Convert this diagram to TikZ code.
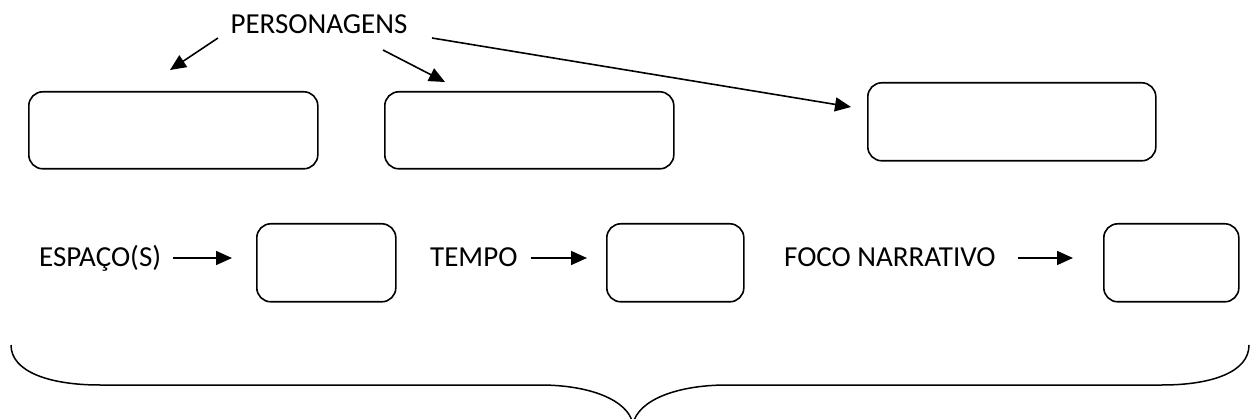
\documentclass[tikz,border=0pt]{standalone}
\usepackage{fontspec}
\setmainfont{Carlito}
\usetikzlibrary{arrows.meta,calc}

\tikzset{
  box/.style={draw=black, line width=1.6pt, rounded corners=14pt, fill=white},
  lbl/.style={inner sep=0pt, font=\fontsize{29}{34}\selectfont},
  arr/.style={line width=1.6pt, -{Triangle[length=16pt,width=14pt]}},
  brace/.style={line width=1.5pt}
}

\begin{document}
\begin{tikzpicture}[x=1pt,y=-1pt]
\useasboundingbox (0,0) rectangle (1252,419);

% upper row: three character boxes
\node[box, minimum width=289pt, minimum height=77pt, anchor=north west] (p1) at (28,91) {};
\node[box, minimum width=289pt, minimum height=77pt, anchor=north west] (p2) at (384,91) {};
\node[box, minimum width=288pt, minimum height=78pt, anchor=north west] (p3) at (867,82) {};

\node[lbl, anchor=base] (pers) at (319,34) {PERSONAGENS};

\coordinate (s1) at (218,38);  \coordinate (t1) at (170,70);
\coordinate (s2) at (383,50);  \coordinate (t2) at (445,82);
\coordinate (s3) at (432,38);  \coordinate (t3) at (851,107);
\draw[arr] (s1) -- (t1);
\draw[arr] (s2) -- (t2);
\draw[arr] (s3) -- (t3);

% middle row: setting, time, point of view
\node[box, minimum width=139pt, minimum height=78pt, anchor=north west] (b1) at (256,223) {};
\node[box, minimum width=137pt, minimum height=78pt, anchor=north west] (b2) at (606,223) {};
\node[box, minimum width=135pt, minimum height=78pt, anchor=north west] (b3) at (1103,223) {};

\node[lbl, anchor=base west] (esp) at (39,267) {ESPAÇO(S)};
\node[lbl, anchor=base west] (tem) at (430,267) {TEMPO};
\node[lbl, anchor=base west] (foc) at (784,267) {FOCO NARRATIVO};

\draw[arr] ($(esp.base east)+(12,-9)$) -- ($(b1.west |- 0,258)+(-24,0)$);
\draw[arr] ($(tem.base east)+(13,-9)$) -- ($(b2.west |- 0,258)+(-19,0)$);
\draw[arr] ($(foc.base east)+(22,-9)$) -- ($(b3.west |- 0,258)+(-30,0)$);

% closing brace
\draw[brace] (11,345) .. controls (11,372) and (50,385) .. (100,385)
  -- (540,385) .. controls (590,385) and (628,400) .. (633,424);
\draw[brace] (633,424) .. controls (638,400) and (677,385) .. (727,385)
  -- (1162,385) .. controls (1212,385) and (1249,372) .. (1249,345);
\end{tikzpicture}
\end{document}
